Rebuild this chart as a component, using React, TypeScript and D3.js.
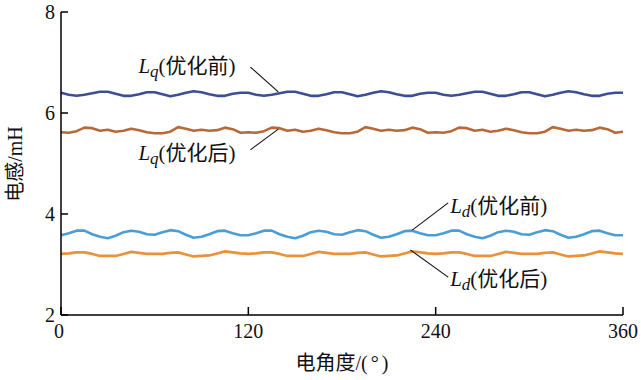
import React from "react";
import * as d3 from "d3";

const angles: number[] = d3.range(0, 361, 5);

const lqBefore: number[] = [
  6.40, 6.36, 6.34, 6.36, 6.39, 6.42, 6.42, 6.38, 6.34, 6.34, 6.37, 6.41,
  6.41, 6.37, 6.33, 6.36, 6.40, 6.43, 6.41, 6.37, 6.34, 6.34, 6.38, 6.40,
  6.40, 6.36, 6.34, 6.36, 6.39, 6.42, 6.42, 6.38, 6.34, 6.34, 6.37, 6.41,
  6.41, 6.37, 6.33, 6.36, 6.40, 6.43, 6.41, 6.37, 6.34, 6.34, 6.38, 6.40,
  6.40, 6.36, 6.34, 6.36, 6.39, 6.42, 6.42, 6.38, 6.34, 6.34, 6.37, 6.41,
  6.41, 6.37, 6.33, 6.36, 6.40, 6.43, 6.41, 6.37, 6.34, 6.34, 6.38, 6.40,
  6.40,
];
const lqAfter: number[] = [
  5.62, 5.61, 5.64, 5.71, 5.70, 5.65, 5.67, 5.63, 5.65, 5.69, 5.66, 5.62,
  5.60, 5.60, 5.63, 5.72, 5.69, 5.65, 5.67, 5.65, 5.66, 5.71, 5.68, 5.61,
  5.62, 5.61, 5.64, 5.71, 5.70, 5.65, 5.67, 5.63, 5.65, 5.69, 5.66, 5.62,
  5.60, 5.60, 5.63, 5.72, 5.69, 5.65, 5.67, 5.65, 5.66, 5.71, 5.68, 5.61,
  5.62, 5.61, 5.64, 5.71, 5.70, 5.65, 5.67, 5.63, 5.65, 5.69, 5.66, 5.62,
  5.60, 5.60, 5.63, 5.72, 5.69, 5.65, 5.67, 5.65, 5.66, 5.71, 5.68, 5.61,
  5.63,
];
const ldBefore: number[] = [
  3.58, 3.62, 3.67, 3.67, 3.60, 3.55, 3.52, 3.57, 3.64, 3.67, 3.65, 3.60,
  3.59, 3.64, 3.68, 3.66, 3.59, 3.53, 3.55, 3.60, 3.66, 3.67, 3.62, 3.58,
  3.58, 3.62, 3.67, 3.67, 3.60, 3.55, 3.52, 3.57, 3.64, 3.67, 3.65, 3.60,
  3.59, 3.64, 3.68, 3.66, 3.59, 3.53, 3.55, 3.60, 3.66, 3.67, 3.62, 3.58,
  3.58, 3.62, 3.67, 3.67, 3.60, 3.55, 3.52, 3.57, 3.64, 3.67, 3.65, 3.60,
  3.59, 3.64, 3.68, 3.66, 3.59, 3.53, 3.55, 3.60, 3.66, 3.67, 3.62, 3.58,
  3.58,
];
const ldAfter: number[] = [
  3.21, 3.22, 3.24, 3.24, 3.21, 3.17, 3.17, 3.17, 3.21, 3.25, 3.23, 3.21,
  3.21, 3.21, 3.23, 3.24, 3.20, 3.16, 3.17, 3.18, 3.22, 3.26, 3.24, 3.22,
  3.21, 3.22, 3.24, 3.24, 3.21, 3.17, 3.17, 3.17, 3.21, 3.25, 3.23, 3.21,
  3.21, 3.21, 3.23, 3.24, 3.20, 3.16, 3.17, 3.18, 3.22, 3.26, 3.24, 3.22,
  3.21, 3.22, 3.24, 3.24, 3.21, 3.17, 3.17, 3.17, 3.21, 3.25, 3.23, 3.21,
  3.21, 3.21, 3.23, 3.24, 3.20, 3.16, 3.17, 3.18, 3.22, 3.26, 3.24, 3.22,
  3.21,
];

const xTicks: number[] = [0, 120, 240, 360];
const yTicks: number[] = [2, 4, 6, 8];

const seriesColors = ["#3d4f94", "#b8693a", "#4b9dd5", "#e9913b"];

// annotations: [sub, label, textAngle, textValue, fromAngle, fromValue, toAngle, toValue]
const annotations: [string, string, number, number, number, number, number, number][] = [
  ["q", "优化前", 49.6, 6.79, 121.3, 6.91, 139.2, 6.42],
  ["q", "优化后", 49.6, 5.07, 121.3, 5.27, 139.2, 5.68],
  ["d", "优化前", 249.3, 4.02, 248, 4.22, 225, 3.68],
  ["d", "优化后", 249.3, 2.57, 248, 2.75, 223.7, 3.29],
];

const W = 641;
const H = 380;
const serif = "'Liberation Serif', 'Times New Roman', serif";
const cjk = "'Noto Sans CJK SC', sans-serif";

export default function App() {
  const x = d3.scaleLinear().domain([0, 360]).range([61, 623]);
  const y = d3.scaleLinear().domain([2, 8]).range([315, 12]);
  const line = d3
    .line<[number, number]>()
    .x((d) => x(d[0]))
    .y((d) => y(d[1]));
  const all = [lqBefore, lqAfter, ldBefore, ldAfter];

  return (
    <svg
      width={W}
      height={H}
      style={{ position: "absolute", left: 0, top: 0, background: "#fff" }}
    >
      <rect width={W} height={H} fill="#fff" />
      {all.map((vals, i) => (
        <path
          key={i}
          d={line(angles.map((a, j) => [a, vals[j]] as [number, number])) || ""}
          fill="none"
          stroke={seriesColors[i]}
          strokeWidth={2.6}
          strokeLinejoin="round"
        />
      ))}
      {/* axes */}
      <line x1={x(0)} x2={x(0)} y1={y(8)} y2={y(2)} stroke="#000" strokeWidth={1.5} />
      <line x1={x(0)} x2={x(360)} y1={y(2)} y2={y(2)} stroke="#000" strokeWidth={1.5} />
      {yTicks.map((t) => (
        <g key={"y" + t}>
          <line x1={x(0)} x2={x(0) + 7} y1={y(t)} y2={y(t)} stroke="#000" strokeWidth={1.5} />
          <text
            x={x(0) - 6}
            y={y(t)}
            dy="0.35em"
            textAnchor="end"
            fontFamily={serif}
            fontSize={20}
            fill="#111"
          >
            {t}
          </text>
        </g>
      ))}
      {xTicks.map((t) => (
        <g key={"x" + t}>
          <line x1={x(t)} x2={x(t)} y1={y(2)} y2={y(2) - 8} stroke="#000" strokeWidth={1.5} />
          <text
            x={x(t) - (t === 0 ? 2 : 0)}
            y={338}
            textAnchor="middle"
            fontFamily={serif}
            fontSize={20}
            fill="#111"
          >
            {t}
          </text>
        </g>
      ))}
      {/* axis titles */}
      <text x={342} y={370} textAnchor="middle" fontSize={20} fill="#111">
        <tspan fontFamily={cjk}>电角度</tspan>
        <tspan fontFamily={serif}>/(</tspan>
        <tspan fontFamily={serif} dx={3}>°</tspan>
        <tspan fontFamily={serif} dx={3}>)</tspan>
      </text>
      <text
        transform={`translate(22,${164}) rotate(-90)`}
        textAnchor="middle"
        fontSize={20}
        fill="#111"
      >
        <tspan fontFamily={cjk}>电感</tspan>
        <tspan fontFamily={serif}>/mH</tspan>
      </text>
      {/* annotations */}
      {annotations.map(([sub, label, ta, tv, fa, fv, la, lv], i) => (
        <g key={"a" + i}>
          <line x1={x(fa)} y1={y(fv)} x2={x(la)} y2={y(lv)} stroke="#111" strokeWidth={1.1} />
          <text x={x(ta)} y={y(tv)} fontSize={21} fill="#111">
            <tspan fontFamily={serif} fontStyle="italic">L</tspan>
            <tspan fontFamily={serif} fontStyle="italic" fontSize={17} dy={4}>
              {sub}
            </tspan>
            <tspan fontFamily={serif} dy={-4}>(</tspan>
            <tspan fontFamily={cjk}>{label}</tspan>
            <tspan fontFamily={serif}>)</tspan>
          </text>
        </g>
      ))}
    </svg>
  );
}
